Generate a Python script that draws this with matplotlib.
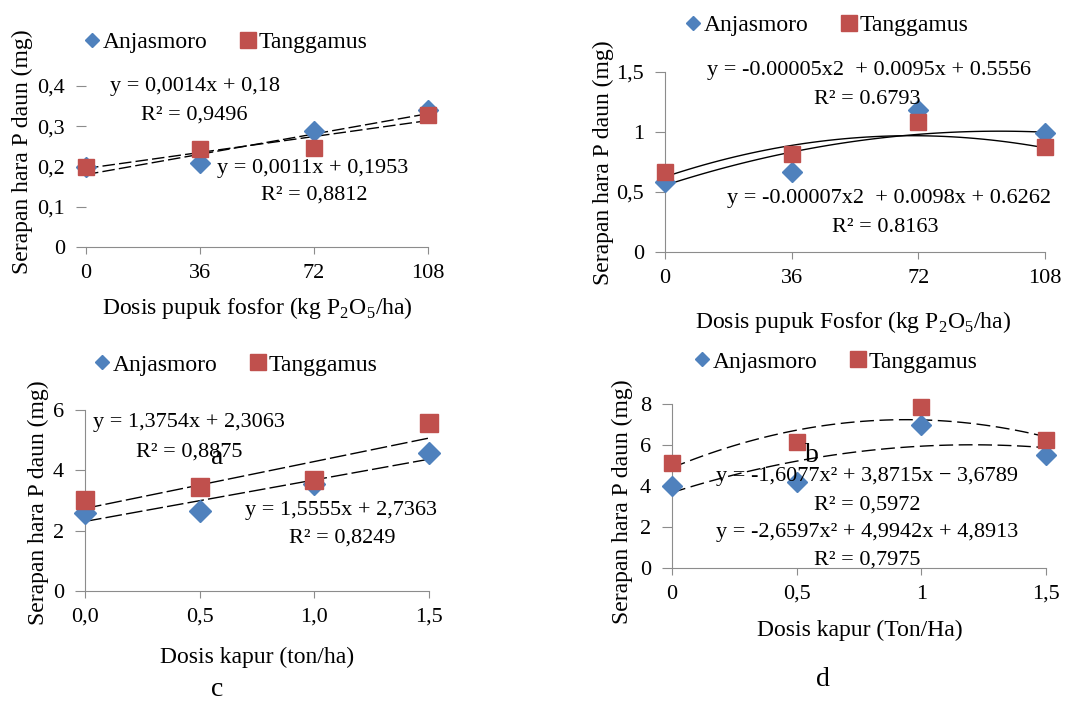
import numpy as np
import matplotlib
matplotlib.use('Agg')
import matplotlib.pyplot as plt
from matplotlib.lines import Line2D

plt.rcParams['font.family'] = 'serif'
plt.rcParams['font.serif'] = ['Liberation Serif', 'DejaVu Serif']
plt.rcParams['mathtext.fontset'] = 'custom'
plt.rcParams['mathtext.rm'] = 'Liberation Serif'

W, H = 1081, 704

# ---- data ----
dosis_p = [0, 36, 72, 108]
dosis_kapur = [0, 0.5, 1.0, 1.5]

# a: serapan P daun vs pupuk fosfor
a_anjas = [0.20, 0.208, 0.288, 0.34]
a_tangg = [0.20, 0.243, 0.246, 0.328]
a_fit_anjas = [0.0014, 0.18]
a_fit_tangg = [0.0011, 0.1953]

# b: serapan P daun vs pupuk fosfor (second trial)
b_anjas = [0.58, 0.667, 1.18, 0.99]
b_tangg = [0.667, 0.817, 1.08, 0.875]
b_fit_1 = [-0.00005, 0.0095, 0.5556]
b_fit_2 = [-0.00007, 0.0098, 0.6262]

# c: serapan P daun vs kapur
c_anjas = [2.59, 2.65, 3.55, 4.58]
c_tangg = [3.02, 3.45, 3.68, 5.57]
c_fit_1 = [1.3754, 2.3063]
c_fit_2 = [1.5555, 2.7363]

# d: serapan P daun vs kapur (second trial)
d_anjas = [4.0, 4.2, 7.0, 5.5]
d_tangg = [5.1, 6.15, 7.85, 6.24]
d_fit_1 = [-1.6077, 3.8715, 3.6789]
d_fit_2 = [-2.6597, 4.9942, 4.8913]

BLUE = '#4F81BD'
RED = '#C0504D'
GRAY = '#8C8C8C'

fig = plt.figure(figsize=(W / 100, H / 100), dpi=100)


def make_axes(left, right, top, bottom, xlim, ylim, xticks, xlabels, yticks, ylabels, yspine=True):
    ax = fig.add_axes([left / W, 1 - bottom / H, (right - left) / W, (bottom - top) / H])
    ax.set_xlim(*xlim)
    ax.set_ylim(*ylim)
    for s in ['top', 'right']:
        ax.spines[s].set_visible(False)
    ax.spines['bottom'].set_color(GRAY)
    ax.spines['left'].set_color(GRAY)
    ax.spines['left'].set_visible(yspine)
    ax.set_xticks(xticks)
    ax.set_xticklabels(xlabels)
    ax.set_yticks(yticks)
    ax.set_yticklabels(ylabels)
    ax.tick_params(axis='x', length=5, color=GRAY, labelsize=16, pad=7)
    ax.tick_params(axis='y', length=7, color=GRAY, labelsize=16, pad=8)
    return ax


def scatter_pair(ax, x, ya, yt, ms_d=10, ms_s=11):
    ax.plot(x, ya, 'D', color=BLUE, ms=ms_d, clip_on=False, zorder=3)
    ax.plot(x, yt, 's', color=RED, ms=ms_s, clip_on=False, zorder=4)


leg_handles = [Line2D([], [], ls='none', marker='D', color=BLUE, ms=7, label='Anjasmoro'),
               Line2D([], [], ls='none', marker='s', color=RED, ms=11, label='Tanggamus')]


def legend_at(cx, cy):
    fig.legend(handles=leg_handles, loc='center', bbox_to_anchor=(cx / W, 1 - cy / H), ncol=2,
               frameon=False, fontsize=17, handlelength=0.6, handletextpad=0.15,
               columnspacing=1.4)


def ftext(x, y, s, size=16, **kw):
    fig.text(x / W, 1 - y / H, s, fontsize=size, ha='center', va='center', **kw)


ylab = 'Serapan hara P daun (mg)'

# ---- panel a ----
ax = make_axes(86, 428, 86, 247, (0, 108), (0, 0.4), dosis_p, ['0', '36', '72', '108'],
               [0, 0.1, 0.2, 0.3, 0.4], ['0', '0,1', '0,2', '0,3', '0,4'], yspine=False)
xs = np.linspace(0, 108, 50)
ax.plot(xs, np.polyval(a_fit_anjas, xs), color='black', lw=1, ls=(0, (9, 3)))
ax.plot(xs, np.polyval(a_fit_tangg, xs), color='black', lw=1, ls=(0, (9, 3)))
scatter_pair(ax, dosis_p, a_anjas, a_tangg)
legend_at(226, 42)
ftext(195, 87, 'y = 0,0014x + 0,18')
ftext(194, 115, 'R² = 0,9496')
ftext(313, 168, 'y = 0,0011x + 0,1953')
ftext(314, 195, 'R² = 0,8812')
ftext(22, 152, ylab, size=17, rotation=90)
ftext(257, 308, 'Dosis pupuk fosfor (kg P$_2$O$_5$/ha)', size=17)

# ---- panel b ----
ax = make_axes(665, 1045, 72, 252, (0, 108), (0, 1.5), dosis_p, ['0', '36', '72', '108'],
               [0, 0.5, 1, 1.5], ['0', '0,5', '1', '1,5'])
ax.plot(xs, np.polyval(b_fit_1, xs), color='black', lw=1)
ax.plot(xs, np.polyval(b_fit_2, xs), color='black', lw=1)
scatter_pair(ax, dosis_p, b_anjas, b_tangg)
legend_at(827, 25)
ftext(869, 70, 'y = -0.00005x2  + 0.0095x + 0.5556')
ftext(867, 100, 'R² = 0.6793')
ftext(889, 198, 'y = -0.00007x2  + 0.0098x + 0.6262')
ftext(885, 228, 'R² = 0.8163')
ftext(603, 163, ylab, size=17, rotation=90)
ftext(853, 322, 'Dosis pupuk Fosfor (kg P$_2$O$_5$/ha)', size=17)

# ---- panel c ----
ax = make_axes(85, 429, 410, 591, (0, 1.5), (0, 6), dosis_kapur, ['0,0', '0,5', '1,0', '1,5'],
               [0, 2, 4, 6], ['0', '2', '4', '6'])
xk = np.linspace(0, 1.5, 50)
ax.plot(xk, np.polyval(c_fit_1, xk), color='black', lw=1, ls=(0, (12, 3)))
ax.plot(xk, np.polyval(c_fit_2, xk), color='black', lw=1, ls=(0, (12, 3)))
scatter_pair(ax, dosis_kapur, c_anjas, c_tangg, ms_d=11, ms_s=13)
legend_at(236, 365)
ftext(189, 422, 'y = 1,3754x + 2,3063')
ftext(189, 452, 'R² = 0,8875')
ftext(341, 510, 'y = 1,5555x + 2,7363')
ftext(342, 538, 'R² = 0,8249')
ftext(38, 503, ylab, size=17, rotation=90)
ftext(257, 657, 'Dosis kapur (ton/ha)', size=17)

# ---- panel d ----
ax = make_axes(672, 1046, 404, 568, (0, 1.5), (0, 8), dosis_kapur, ['0', '0,5', '1', '1,5'],
               [0, 2, 4, 6, 8], ['0', '2', '4', '6', '8'])
ax.plot(xk, np.polyval(d_fit_1, xk), color='black', lw=1, ls=(0, (10, 4)))
ax.plot(xk, np.polyval(d_fit_2, xk), color='black', lw=1, ls=(0, (10, 4)))
scatter_pair(ax, dosis_kapur, d_anjas, d_tangg, ms_d=10, ms_s=12)
legend_at(836, 362)
ftext(867, 477, 'y = -1,6077x² + 3,8715x − 3,6789')
ftext(867, 505, 'R² = 0,5972')
ftext(867, 533, 'y = -2,6597x² + 4,9942x + 4,8913')
ftext(867, 560, 'R² = 0,7975')
ftext(622, 502, ylab, size=17, rotation=90)
ftext(860, 630, 'Dosis kapur (Ton/Ha)', size=17)

# panel captions (overlapping as in the source)
ftext(217, 457, 'a', size=20)
ftext(812, 455, 'b', size=20)
ftext(217, 690, 'c', size=20)
ftext(823, 680, 'd', size=20)

fig.savefig('out.png', dpi=100)
